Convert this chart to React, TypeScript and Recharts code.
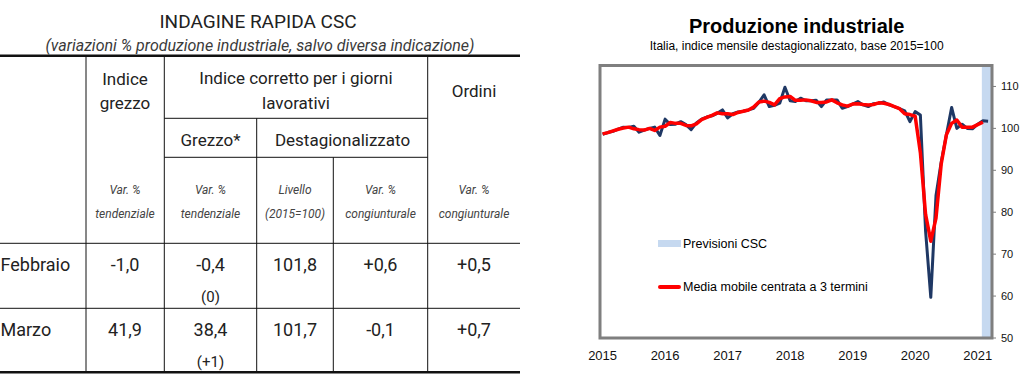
import { LineChart, Line, XAxis, YAxis, ReferenceArea, Legend } from 'recharts';

// --- grafico: produzione industriale (indice destagionalizzato, 2015=100), gen 2015 - mar 2021
const anni = ['2015', '2016', '2017', '2018', '2019', '2020', '2021'];

const produzione = [
  98.6, 99.0, 99.3, 99.8, 100.3, 100.2, 100.5, 99.1, 99.6, 100.0, 100.3, 98.3,
  102.2, 100.9, 101.0, 101.6, 100.9, 99.7, 101.3, 102.2, 102.7, 103.0, 103.6, 104.4,
  102.5, 103.5, 103.9, 104.1, 104.4, 104.8, 106.2, 108.0, 105.2, 105.5, 106.0, 109.8,
  106.6, 106.4, 107.2, 106.6, 106.6, 106.7, 105.2, 106.8, 106.8, 106.8, 104.8, 105.2,
  105.8, 106.4, 105.6, 105.2, 105.9, 106.0, 106.3, 105.6, 105.2, 104.7, 104.2, 101.6,
  104.0, 103.2, 75.5, 59.7, 84.0, 92.0, 98.5, 105.0, 100.0, 101.0, 100.0, 99.9,
  101.0, 101.8, 101.7,
];

const mediaMobile = [
  98.7, 99.0, 99.4, 99.8, 100.1, 100.3, 99.9, 99.7, 99.6, 100.0, 99.5, 100.3,
  100.5, 101.4, 101.2, 101.2, 100.7, 100.6, 101.1, 102.1, 102.6, 103.1, 103.7, 103.5,
  103.5, 103.3, 103.8, 104.1, 104.4, 105.1, 106.3, 106.5, 106.2, 105.6, 107.1, 107.5,
  107.6, 106.7, 106.7, 106.8, 106.6, 106.2, 106.2, 106.3, 106.8, 106.1, 105.6, 105.3,
  105.8, 105.9, 105.7, 105.6, 105.7, 106.1, 106.0, 105.7, 105.2, 104.7, 103.5, 103.3,
  102.9, 94.2, 79.5, 73.1, 78.6, 91.5, 98.5, 101.2, 102.0, 100.3, 100.3, 100.3,
  100.9, 101.5,
];

const tickLivello = [50, 60, 70, 80, 90, 100, 110];
const legenda = ['Previsioni CSC', 'Media mobile centrata a 3 termini'];

const dati = produzione.map((v, i) => ({
  mese: i,
  produzione: v,
  media: i < mediaMobile.length ? mediaMobile[i] : null,
}));

// --- tabella: indagine rapida CSC
const righe = [
  { mese: 'Febbraio', grezzo: '-1,0', corretto: '-0,4', giorni: '(0)', livello: '101,8', congiunturale: '+0,6', ordini: '+0,5' },
  { mese: 'Marzo', grezzo: '41,9', corretto: '38,4', giorni: '(+1)', livello: '101,7', congiunturale: '-0,1', ordini: '+0,7' },
];

const colCentri = [125, 210.5, 295, 380.5, 474];
const arial = 'Liberation Sans, Arial, sans-serif';
const roboto = 'Roboto, sans-serif';

function Tabella() {
  const sub = [
    ['Var. %', 'tendenziale'],
    ['Var. %', 'tendenziale'],
    ['Livello', '(2015=100)'],
    ['Var. %', 'congiunturale'],
    ['Var. %', 'congiunturale'],
  ];
  return (
    <svg width={580} height={378} style={{ position: 'absolute', left: 0, top: 0 }} fontFamily={roboto} fill="#222">
      <text x={258} y={28} textAnchor="middle" fontSize={19}>INDAGINE RAPIDA CSC</text>
      <text x={260} y={51} textAnchor="middle" fontSize={16} fontStyle="italic" fill="#3a3a3a">
        (variazioni % produzione industriale, salvo diversa indicazione)
      </text>

      <g stroke="#111" strokeWidth={1}>
        <line x1={0} x2={520} y1={55.8} y2={55.8} strokeWidth={2.5} />
        <line x1={164.3} x2={427.7} y1={118.3} y2={118.3} />
        <line x1={164.3} x2={427.7} y1={157.3} y2={157.3} />
        <line x1={0} x2={520} y1={243.3} y2={243.3} />
        <line x1={0} x2={520} y1={308.3} y2={308.3} />
        <line x1={0} x2={520} y1={372.3} y2={372.3} strokeWidth={2.5} />
        <line x1={86} x2={86} y1={57} y2={371} />
        <line x1={164.3} x2={164.3} y1={57} y2={371} />
        <line x1={256.7} x2={256.7} y1={118.3} y2={371} />
        <line x1={333.3} x2={333.3} y1={157.3} y2={371} />
        <line x1={427.7} x2={427.7} y1={57} y2={371} />
      </g>

      <g fontSize={17} textAnchor="middle">
        <text x={125} y={84.5}>Indice</text>
        <text x={125} y={108.5}>grezzo</text>
        <text x={296} y={84}>Indice corretto per i giorni</text>
        <text x={296} y={109}>lavorativi</text>
        <text x={474} y={96.5}>Ordini</text>
        <text x={210.5} y={146}>Grezzo*</text>
        <text x={342.5} y={146}>Destagionalizzato</text>
      </g>

      <g fontSize={12} fontStyle="italic" textAnchor="middle" fill="#444">
        {sub.map((s, k) => (
          <g key={k}>
            <text x={colCentri[k]} y={194}>{s[0]}</text>
            <text x={colCentri[k]} y={217.5}>{s[1]}</text>
          </g>
        ))}
      </g>

      {righe.map((r, k) => {
        const y = 271 + k * 65;
        const vals = [r.grezzo, r.corretto, r.livello, r.congiunturale, r.ordini];
        return (
          <g key={r.mese} fontSize={18}>
            <text x={0.5} y={y}>{r.mese}</text>
            {vals.map((v, j) => (
              <text key={j} x={colCentri[j]} y={y} textAnchor="middle">{v}</text>
            ))}
            <text x={colCentri[1]} y={y + 31} textAnchor="middle" fontSize={15}>{r.giorni}</text>
          </g>
        );
      })}
    </svg>
  );
}

function Legenda() {
  return (
    <div style={{ fontFamily: arial, fontSize: 12.5, color: '#000' }}>
      {legenda.map((l, k) => (
        <div key={l} style={{ display: 'flex', alignItems: 'center', height: 14, marginBottom: k === 0 ? 29.5 : 0, whiteSpace: 'nowrap' }}>
          <div
            style={{
              width: 22.5,
              height: k === 0 ? 7 : 4,
              background: k === 0 ? '#c6d9f0' : '#ff0000',
              borderRadius: k === 0 ? 0 : 2,
              marginRight: 2.5,
            }}
          />
          <span>{l}</span>
        </div>
      ))}
    </div>
  );
}

export default function App() {
  return (
    <div style={{ position: 'absolute', left: 0, top: 0, width: 1024, height: 378, background: '#fff', overflow: 'hidden' }}>
      <Tabella />
      <svg width={444} height={60} style={{ position: 'absolute', left: 580, top: 0 }} fontFamily={arial} textAnchor="middle" fill="#000">
        <text x={216.7} y={33.3} fontSize={20} fontWeight="bold">Produzione industriale</text>
        <text x={216.7} y={50} fontSize={12}>Italia, indice mensile destagionalizzato, base 2015=100</text>
      </svg>
      <div style={{ position: 'absolute', left: 580, top: 0 }}>
        <LineChart width={444} height={378} data={dati} margin={{ top: 65.5, right: 2, bottom: 10, left: 20 }}>
          <XAxis
            type="number"
            dataKey="mese"
            domain={[-0.5, 74.75]}
            ticks={anni.map((_, k) => k * 12)}
            tickFormatter={(v: number) => anni[v / 12]}
            interval={0}
            allowDataOverflow
            axisLine={false}
            tickLine={false}
            tickSize={0}
            tickMargin={13}
            height={30}
            tick={{ fill: '#111', fontSize: 13, fontFamily: arial }}
          />
          <YAxis
            orientation="right"
            domain={[50, 115]}
            ticks={tickLivello}
            interval={0}
            allowDataOverflow
            width={30}
            axisLine={{ stroke: '#7f7f7f', strokeWidth: 2 }}
            tickLine={{ stroke: '#7f7f7f' }}
            tickSize={4}
            tickMargin={5}
            tick={{ fill: '#111', fontSize: 11, fontFamily: arial }}
          />
          <ReferenceArea x1={72.8} x2={74.75} y1={50} y2={115} fill="#c6d9f0" fillOpacity={1} stroke="none" />
          <ReferenceArea x1={-0.5} x2={74.75} y1={50} y2={115} fill="none" stroke="#7f7f7f" strokeWidth={3} />
          <Legend
            layout="vertical"
            align="center"
            verticalAlign="middle"
            wrapperStyle={{ left: 78, top: 236.5, width: 260 }}
            content={() => <Legenda />}
          />
          <Line
            type="linear"
            dataKey="produzione"
            stroke="#1f3864"
            strokeWidth={3}
            dot={false}
            strokeLinejoin="round"
            isAnimationActive={false}
          />
          <Line
            type="linear"
            dataKey="media"
            stroke="#ff0000"
            strokeWidth={3.5}
            dot={false}
            strokeLinejoin="round"
            isAnimationActive={false}
          />
        </LineChart>
      </div>
    </div>
  );
}
